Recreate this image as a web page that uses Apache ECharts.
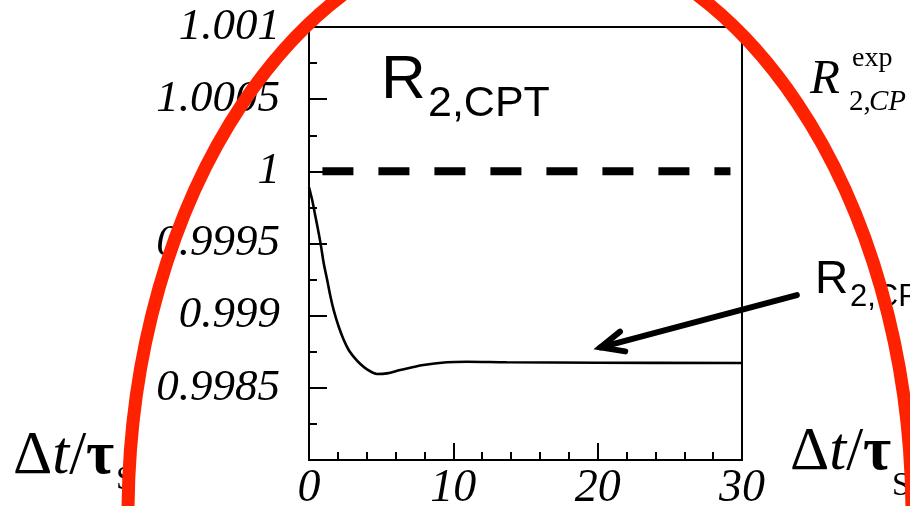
<!DOCTYPE html>
<html>
<head>
<meta charset="utf-8">
<script src="https://cdn.jsdelivr.net/npm/echarts@6/dist/echarts.min.js"></script>
<style>
  html, body { margin: 0; padding: 0; background: #fff; }
  #chart { width: 910px; height: 506px; }
</style>
</head>
<body>
<div id="chart"></div>
<script>
// ---- data ----
const curveX = [0, 0.22, 0.45, 0.8, 1.02, 1.26, 1.49, 1.71, 2.06, 2.41, 2.75, 3.1, 3.56, 4.02, 4.71, 5.4, 6.32, 7.93, 9.55, 10.93, 13.7, 20, 30];
const curveY = [0.99989, 0.999801, 0.999685, 0.999501, 0.999363, 0.999247, 0.999131, 0.999039, 0.998923, 0.998831, 0.998762, 0.998715, 0.998665, 0.998628, 0.998596, 0.998600, 0.998623, 0.998658, 0.998677, 0.998681, 0.998677, 0.998674, 0.998672];
const refLineX = [0.93, 29.2];
const refLineValue = 1;
const xTicks = [0, 10, 20, 30];
const xTickLabels = ['0', '10', '20', '30'];
const yTicks = [0.998, 0.9985, 0.999, 0.9995, 1, 1.0005, 1.001];
const yTickLabels = ['', '0.9985', '0.999', '0.9995', '1', '1.0005', '1.001'];
// annotation arrow (data coords: tip, tail)
const arrowTip = [20.2, 0.99878];
const arrowTail = [33.8, 0.999143];

const chart = echarts.init(document.getElementById('chart'), null, { renderer: 'canvas' });

function lookup(ticks, labels, v) {
  for (let i = 0; i < ticks.length; i++) if (Math.abs(ticks[i] - v) < 1e-7) return labels[i];
  return '';
}

const serif = '"Liberation Serif", "Times New Roman", serif';
const sans = '"Liberation Sans", Arial, sans-serif';

const option = {
  animation: false,
  backgroundColor: '#fff',
  grid: {
    left: 309, right: 168, top: 27, bottom: 46,
    outerBoundsMode: 'none', containLabel: false,
    show: true, borderColor: '#000', borderWidth: 2, backgroundColor: 'transparent'
  },
  xAxis: {
    type: 'value', min: 0, max: 30, interval: 10,
    axisLine: { show: true, onZero: false, lineStyle: { color: '#000', width: 2 } },
    axisTick: { show: true, inside: true, length: 17, lineStyle: { color: '#000', width: 2 } },
    minorTick: { show: true, splitNumber: 5, length: 8, lineStyle: { color: '#000', width: 2 } },
    splitLine: { show: false },
    axisLabel: {
      margin: 6, color: '#000', fontFamily: serif, fontStyle: 'italic', fontSize: 46,
      formatter: v => lookup(xTicks, xTickLabels, v)
    }
  },
  yAxis: {
    type: 'value', min: 0.998, max: 1.001, interval: 0.0005,
    axisLine: { show: true, onZero: false, lineStyle: { color: '#000', width: 2 } },
    axisTick: { show: true, inside: true, length: 18, lineStyle: { color: '#000', width: 2 } },
    minorTick: { show: true, splitNumber: 2, length: 8, lineStyle: { color: '#000', width: 2 } },
    splitLine: { show: false },
    axisLabel: {
      margin: 29, color: '#000', fontFamily: serif, fontStyle: 'italic', fontSize: 45,
      formatter: v => lookup(yTicks, yTickLabels, v)
    }
  },
  series: [
    {
      type: 'line', name: 'R2,CPT',
      data: curveX.map((x, i) => [x, curveY[i]]),
      showSymbol: false, smooth: 0.35,
      lineStyle: { color: '#000', width: 2.6 }
    },
    {
      type: 'line', name: 'exp',
      data: refLineX.map(x => [x, refLineValue]),
      showSymbol: false,
      lineStyle: { color: '#000', width: 8, type: [31, 25], cap: 'butt' }
    }
  ]
};
chart.setOption(option);

// ---- annotations ----
const tip = chart.convertToPixel({ gridIndex: 0 }, arrowTip);
const tail = chart.convertToPixel({ gridIndex: 0 }, arrowTail);
const ang = Math.atan2(tail[1] - tip[1], tail[0] - tip[0]);
const wl = 25, wa = 24 * Math.PI / 180;
const w1 = [tip[0] + wl * Math.cos(ang - wa), tip[1] + wl * Math.sin(ang - wa)];
const w2 = [tip[0] + wl * Math.cos(ang + wa), tip[1] + wl * Math.sin(ang + wa)];

function txt(x, y, text, font, extra) {
  return Object.assign({
    type: 'text', x: x, y: y, z: 50,
    style: Object.assign({ text: text, fill: '#000', align: 'left', verticalAlign: 'middle' }, font)
  }, extra || {});
}

const deltaRich = {
  a: { fontFamily: serif, fontSize: 61, fill: '#000' },
  b: { fontFamily: serif, fontSize: 61, fontStyle: 'italic', fill: '#000' },
  c: { fontFamily: serif, fontSize: 61, fontWeight: 'bold', fill: '#000' }
};

chart.setOption({
  graphic: [
    { type: 'line', z: 40, shape: { x1: tail[0], y1: tail[1], x2: tip[0], y2: tip[1] },
      style: { stroke: '#000', lineWidth: 6, lineCap: 'round' } },
    { type: 'polyline', z: 40, shape: { points: [w1, tip, w2] },
      style: { stroke: '#000', lineWidth: 6, lineCap: 'round', lineJoin: 'miter', fill: null } },
    // R2,CPT title in plot
    txt(381, 81, 'R', { fontFamily: sans, fontSize: 62 }),
    txt(428, 104, '2,CPT', { fontFamily: sans, fontSize: 43 }),
    // right label R2,CPT
    txt(815, 280, 'R', { fontFamily: sans, fontSize: 46 }),
    txt(850, 297, '2,CPT', { fontFamily: sans, fontSize: 31 }),
    // top right R^exp_{2,CP}
    txt(810, 80, 'R', { fontFamily: serif, fontStyle: 'italic', fontSize: 49 }),
    txt(852, 59, 'exp', { fontFamily: serif, fontSize: 28 }),
    txt(849, 102, '2,', { fontFamily: serif, fontSize: 29 }),
    txt(869, 102, 'CP', { fontFamily: serif, fontStyle: 'italic', fontSize: 29 }),
    // Δt/τS left
    { type: 'text', x: 13, y: 457, z: 50, style: {
        text: '{a|Δ}{b|t}{a|/}{c|τ}', verticalAlign: 'middle', align: 'left', rich: deltaRich } },
    txt(116, 480, 'S', { fontFamily: serif, fontSize: 33 }),
    // Δt/τS right
    { type: 'text', x: 790, y: 453, z: 50, style: {
        text: '{a|Δ}{b|t}{a|/}{c|τ}', verticalAlign: 'middle', align: 'left', rich: deltaRich } },
    txt(892, 486, 'S', { fontFamily: serif, fontSize: 33 }),
    // red ellipse overlay
    { type: 'ellipse', z: 100, shape: { cx: 520, cy: 516, rx: 392, ry: 584 },
      style: { stroke: '#ff2200', lineWidth: 13, fill: null } }
  ]
});
</script>
</body>
</html>
